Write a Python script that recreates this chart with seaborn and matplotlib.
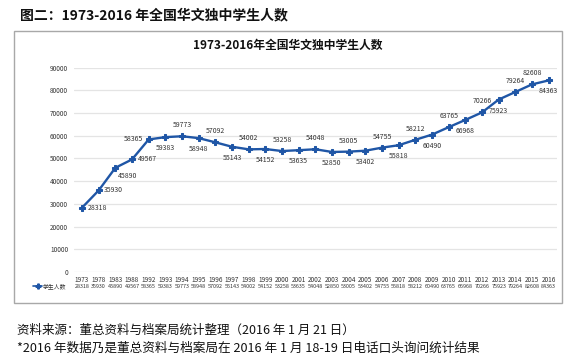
import matplotlib
matplotlib.use("Agg")
import matplotlib.pyplot as plt
import seaborn as sns
import pandas as pd
from matplotlib.patches import Rectangle

years = ["1973", "1978", "1983", "1988", "1992", "1993", "1994", "1995", "1996", "1997",
         "1998", "1999", "2000", "2001", "2002", "2003", "2004", "2005", "2006", "2007",
         "2008", "2009", "2010", "2011", "2012", "2013", "2014", "2015", "2016"]
students = [28318, 35930, 45890, 49567, 58365, 59383, 59773, 58948, 57092, 55143,
            54002, 54152, 53258, 53635, 54048, 52850, 53005, 53402, 54755, 55818,
            58212, 60490, 63765, 66968, 70266, 75923, 79264, 82608, 84363]
# label placement per point: r=right, rb=right-below, l=left, a=above, b=below
label_pos = ["r", "r", "rb", "r", "l", "b", "a", "b", "a", "b",
             "a", "b", "a", "b", "a", "b", "a", "b", "a", "b",
             "a", "b", "a", "b", "a", "b", "a", "a", "b"]
series_name = "学生人数"
fig_title = "图二：1973-2016 年全国华文独中学生人数"
chart_title = "1973-2016年全国华文独中学生人数"
source_line = "资料来源：董总资料与档案局统计整理（2016 年 1 月 21 日）"
note_line = "*2016 年数据乃是董总资料与档案局在 2016 年 1 月 18-19 日电话口头询问统计结果"

sns.set_theme(style="white")
plt.rcParams["font.family"] = ["Noto Sans CJK SC", "DejaVu Sans"]

W, H = 580, 362
fig = plt.figure(figsize=(W / 100, H / 100), dpi=100)

def fx(px):
    return px / W

def fy(py):
    return 1 - py / H

# outer bordered box
fig.patches.append(Rectangle((fx(14), fy(303)), fx(562) - fx(14), fy(31) - fy(303),
                             transform=fig.transFigure, fill=False,
                             edgecolor="#a8a8a8", linewidth=1.0))

left, right, top, bottom = 73.7, 557.0, 67.6, 272.0
ax = fig.add_axes([fx(left), fy(bottom), fx(right) - fx(left), fy(top) - fy(bottom)])

df = pd.DataFrame({"idx": range(len(years)), "year": years, "value": students})
color = "#1f56a6"
sns.lineplot(data=df, x="idx", y="value", ax=ax, color=color, linewidth=1.7,
             marker="P", markersize=5, markeredgecolor=color, markerfacecolor=color)

ax.set_xlim(-0.5, len(years) - 0.5)
ax.set_ylim(0, 90000)
ax.set_yticks(range(0, 90001, 10000))
ax.set_yticklabels([str(v) for v in range(0, 90001, 10000)], fontsize=4.6, color="#333333")
ax.set_xticks(range(len(years)))
ax.set_xticklabels(years, fontsize=4.6, color="#333333")
ax.tick_params(axis="both", length=0, pad=3)
ax.tick_params(axis="y", pad=4)
ax.set_xlabel("")
ax.set_ylabel("")
ax.grid(axis="y", color="#e4e4e4", linewidth=0.9)
for s in ax.spines.values():
    s.set_visible(False)

# data labels
offsets = {
    "r": ((4, 0), "left", "center"),
    "rb": ((2, -3), "left", "top"),
    "l": ((-4, 0), "right", "center"),
    "a": ((0, 5), "center", "bottom"),
    "b": ((0, -5), "center", "top"),
}
for i, (v, p) in enumerate(zip(students, label_pos)):
    off, ha, va = offsets[p]
    ax.annotate(str(v), (i, v), xytext=off, textcoords="offset points",
                ha=ha, va=va, fontsize=5, color="#333333")

# data table row
trans = ax.get_xaxis_transform()
row_y = -(286 - bottom) / (bottom - top)
for i, v in enumerate(students):
    ax.text(i, row_y, str(v), transform=trans, ha="center", va="center",
            fontsize=3.9, color="#333333")
ax.plot([-2.95, -2.4], [row_y, row_y], transform=trans, color=color,
        linewidth=1.2, clip_on=False)
ax.plot([-2.67], [row_y], transform=trans, color=color, marker="P",
        markersize=3.5, clip_on=False)
ax.text(-2.35, row_y, series_name, transform=trans, ha="left", va="center",
        fontsize=4.2, color="#333333")

# titles
fig.text(fx(20), fy(15), fig_title, ha="left", va="center", fontsize=10,
         fontweight="bold", color="#111111")
fig.text(fx(288), fy(45), chart_title, ha="center", va="center", fontsize=8.5,
         fontweight="bold", color="#111111")

# footer
fig.text(fx(17), fy(330), source_line, ha="left", va="center", fontsize=9, color="#111111")
fig.text(fx(17), fy(348), note_line, ha="left", va="center", fontsize=9.1, color="#111111")

fig.savefig("out.png", dpi=100, facecolor="white")
